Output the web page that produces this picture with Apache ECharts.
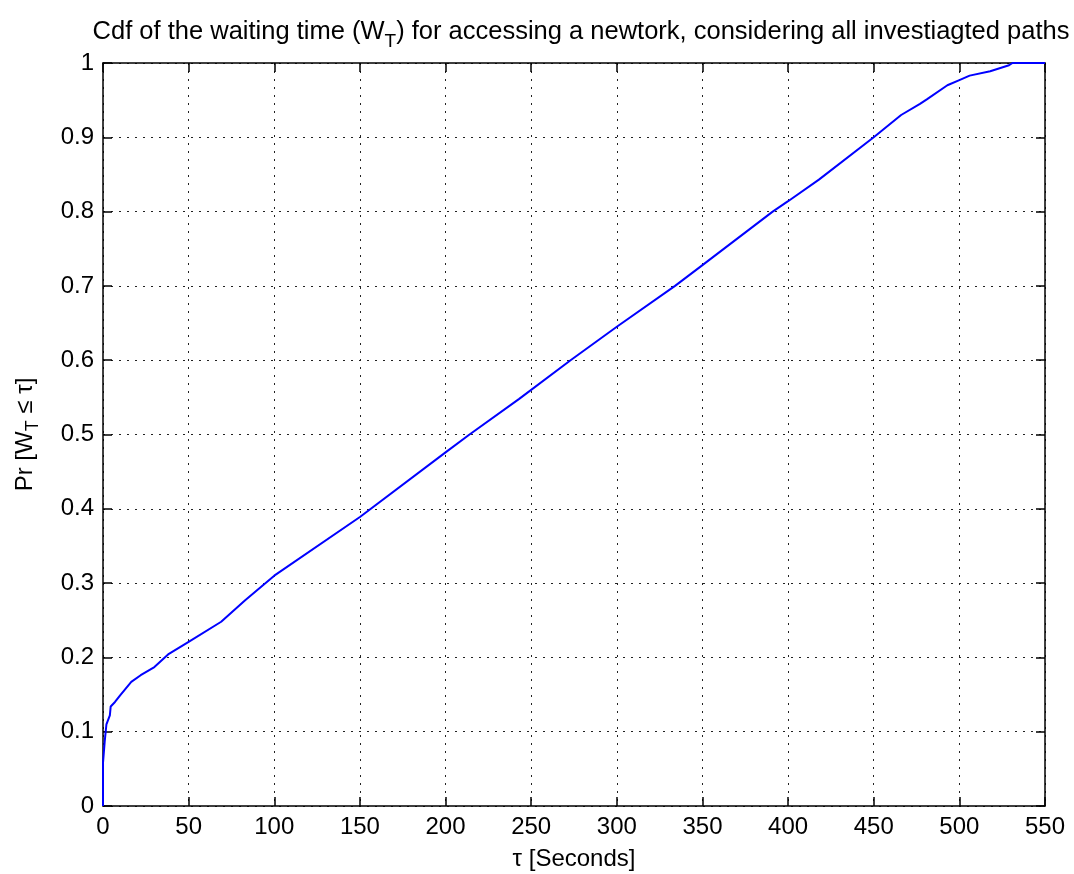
<!DOCTYPE html>
<html>
<head>
<meta charset="utf-8">
<title>Cdf of the waiting time</title>
<script src="https://cdn.jsdelivr.net/npm/echarts@6/dist/echarts.min.js"></script>
<style>
  html, body { margin: 0; padding: 0; background: #fff; }
  #chart { width: 1074px; height: 874px; }
</style>
</head>
<body>
<div id="chart"></div>
<script>
// Empirical CDF of the waiting time W_T (seconds) over all investigated paths
const tau = [0, 0, 0.3, 1, 1, 2, 2, 4, 4.5, 7, 10, 16.5, 22, 30, 38, 50, 69, 83, 100, 150, 200, 214, 243, 273, 300, 334, 350, 391, 400, 418, 450, 466, 477, 481, 493, 500, 506, 518, 529, 531, 550];
const cdf = [0, 0.058, 0.058, 0.058, 0.087, 0.087, 0.11, 0.122, 0.134, 0.14, 0.149, 0.167, 0.176, 0.187, 0.204, 0.221, 0.248, 0.277, 0.31, 0.389, 0.476, 0.5, 0.548, 0.6, 0.645, 0.7, 0.728, 0.8, 0.814, 0.843, 0.9, 0.93, 0.945, 0.951, 0.97, 0.977, 0.983, 0.989, 0.997, 1.0, 1.0];

const xTicks = { min: 0, max: 550, interval: 50 };
const yTicks = { min: 0, max: 1, interval: 0.1 };

const FONT = '"Liberation Sans", Arial, sans-serif';
const gridLine = { show: true, lineStyle: { color: '#222', width: 1, type: [2, 6] } };
const axisLine = { show: true, onZero: false, lineStyle: { color: '#000', width: 1.5 } };
const tick = { show: true, inside: true, length: 9, lineStyle: { color: '#000', width: 1.5 } };

const chart = echarts.init(document.getElementById('chart'), null, { renderer: 'canvas' });

chart.setOption({
  backgroundColor: '#fff',
  animation: false,
  title: {
    text: '{n|Cdf of the waiting time (W}{s|T}{n|) for accessing a newtork, considering all investiagted paths}',
    left: 576,
    textAlign: 'center',
    top: 7,
    textStyle: {
      fontFamily: FONT, fontSize: 25.5, fontWeight: 'normal', color: '#000',
      rich: {
        n: { fontFamily: FONT, fontSize: 25.5, fontWeight: 'normal', color: '#000' },
        s: { fontFamily: FONT, fontSize: 19, fontWeight: 'normal', color: '#000', padding: [20, 0, 0, 0] }
      }
    }
  },
  grid: { left: 103, right: 29, top: 63, bottom: 68, containLabel: false, outerBoundsMode: 'none' },
  xAxis: [
    {
      type: 'value', position: 'bottom',
      min: xTicks.min, max: xTicks.max, interval: xTicks.interval,
      name: 'τ [Seconds]', nameLocation: 'middle', nameGap: 41,
      nameTextStyle: { fontFamily: FONT, fontSize: 24, color: '#000' },
      axisLine, axisTick: tick,
      axisLabel: { fontFamily: FONT, fontSize: 24, color: '#000', margin: 9 },
      splitLine: gridLine
    },
    {
      type: 'value', position: 'top',
      min: xTicks.min, max: xTicks.max, interval: xTicks.interval,
      axisLine, axisTick: tick, axisLabel: { show: false }, splitLine: { show: false }
    }
  ],
  yAxis: [
    {
      type: 'value', position: 'left',
      min: yTicks.min, max: yTicks.max, interval: yTicks.interval,
      name: '{n|Pr [W}{s|T}{n| ≤ τ]}', nameLocation: 'middle', nameGap: 61, nameRotate: 90,
      nameTextStyle: {
        fontFamily: FONT, fontSize: 24, color: '#000',
        rich: {
          n: { fontFamily: FONT, fontSize: 24, color: '#000' },
          s: { fontFamily: FONT, fontSize: 18, color: '#000', padding: [16, 0, 0, 0] }
        }
      },
      axisLine, axisTick: tick,
      axisLabel: { fontFamily: FONT, fontSize: 24, color: '#000', margin: 9,
        formatter: v => (Math.round(v * 10) / 10).toString() },
      splitLine: gridLine
    },
    {
      type: 'value', position: 'right',
      min: yTicks.min, max: yTicks.max, interval: yTicks.interval,
      axisLine, axisTick: tick, axisLabel: { show: false }, splitLine: { show: false }
    }
  ],
  series: [
    {
      type: 'line',
      data: tau.map((t, i) => [t, cdf[i]]),
      showSymbol: false,
      lineStyle: { color: '#0000ff', width: 2 },
      z: 5
    }
  ]
});
</script>
</body>
</html>
